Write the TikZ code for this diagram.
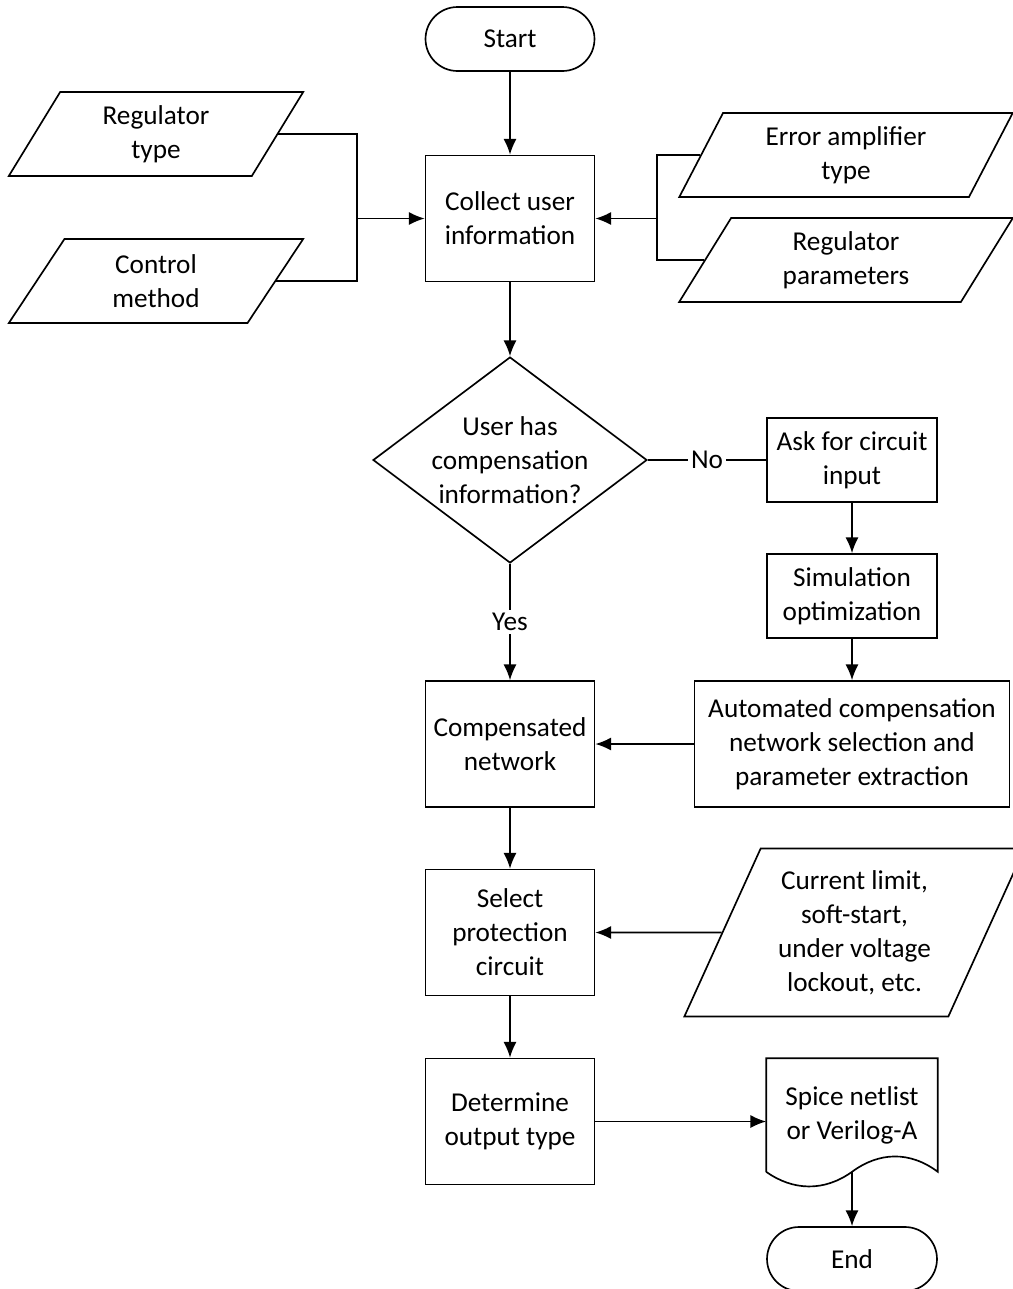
\documentclass[tikz,border=0pt]{standalone}
\usepackage{fontspec}
\setmainfont{Carlito}
\usepackage{tikz}
\usetikzlibrary{arrows.meta,shapes.geometric,shapes.misc}

\begin{document}
\begin{tikzpicture}[x=0.02cm, y=-0.02cm, line width=0.95pt,
    font=\fontsize{15.5}{19.3}\selectfont,
    every node/.style={align=center, inner sep=0pt},
    term/.style={draw, rounded rectangle, minimum width=3.38cm, minimum height=1.28cm},
    proc/.style={draw, rectangle, minimum width=3.38cm, minimum height=2.52cm},
    io/.style={draw, trapezium, trapezium left angle=63.43, trapezium right angle=116.57,
        trapezium stretches=true, minimum height=1.68cm},
    decide/.style={draw, diamond, aspect=1.33, minimum width=5.48cm, minimum height=4.12cm, inner sep=-3pt},
    lbl/.style={fill=white, inner sep=2pt},
    arr/.style={-{Latex[length=9pt,width=7.5pt]}}]
    \useasboundingbox (0,0) rectangle (1013,1289);

    \node[term] (start) at (510,39) {Start};
    \node[proc] (collect) at (510,218.5) {Collect user\\information};
    \node[io, minimum width=5.9cm] (regtype) at (156,134) {Regulator\\type};
    \node[io, minimum width=5.9cm] (ctrl) at (156,281) {Control\\method};
    \node[io, minimum width=6.68cm] (erramp) at (846,155) {Error amplifier\\type};
    \node[io, minimum width=6.68cm] (regparam) at (846,260) {Regulator\\parameters};
    \coordinate (lj) at (357,218.5);
    \coordinate (rj) at (657,218.5);

    \node[decide] (dec) at (510,460) {User has\\compensation\\information?};
    \node[proc, minimum width=3.4cm, minimum height=1.68cm] (ask) at (852,460) {Ask for circuit\\input};
    \node[proc, minimum width=3.4cm, minimum height=1.68cm] (sim) at (852,596) {Simulation\\optimization};
    \node[proc, minimum width=6.3cm] (auto) at (852,744) {Automated compensation\\network selection and\\parameter extraction};
    \node[proc] (comp) at (510,744) {Compensated\\network};
    \node[proc] (select) at (510,932.5) {Select\\protection\\circuit};
    \node[io, minimum width=6.82cm, minimum height=3.36cm] (curlim) at (854.5,932.5) {Current limit,\\soft-start,\\under voltage\\lockout, etc.};
    \node[proc] (determine) at (510,1121.5) {Determine\\output type};
    \node[minimum width=3.4cm, minimum height=2.24cm] (spice) at (852,1115) {Spice netlist\\or Verilog-A};
    \coordinate (docout) at (spice.south);
    \draw (spice.south west) -- (spice.north west) -- (spice.north east) -- (spice.south east)
        .. controls +(-28,-21) and +(27,-20) .. (docout)
        .. controls +(-28,20) and +(27,19) .. (spice.south west);
    \node[term, minimum width=3.4cm] (end) at (852,1259) {End};

    \draw[arr] (start) -- (collect);
    \draw (regtype.east) -| (lj) |- (ctrl.east);
    \draw[arr] (lj) -- (collect.west);
    \draw (erramp.west) -| (rj) |- (regparam.west);
    \draw[arr] (rj) -- (collect.east);
    \draw[arr] (collect) -- (dec);
    \draw (dec.east) -- node[lbl] {No} (ask.west);
    \draw[arr] (dec.south) -- node[lbl] {Yes} (comp.north);
    \draw[arr] (ask) -- (sim);
    \draw[arr] (sim) -- (auto);
    \draw[arr] (auto) -- (comp);
    \draw[arr] (comp) -- (select);
    \draw[arr] (curlim.west) -- (select.east);
    \draw[arr] (select) -- (determine);
    \draw[arr] (determine.east) -- (determine.east -| spice.west);
    \draw[arr] (docout) -- (end);
\end{tikzpicture}
\end{document}
